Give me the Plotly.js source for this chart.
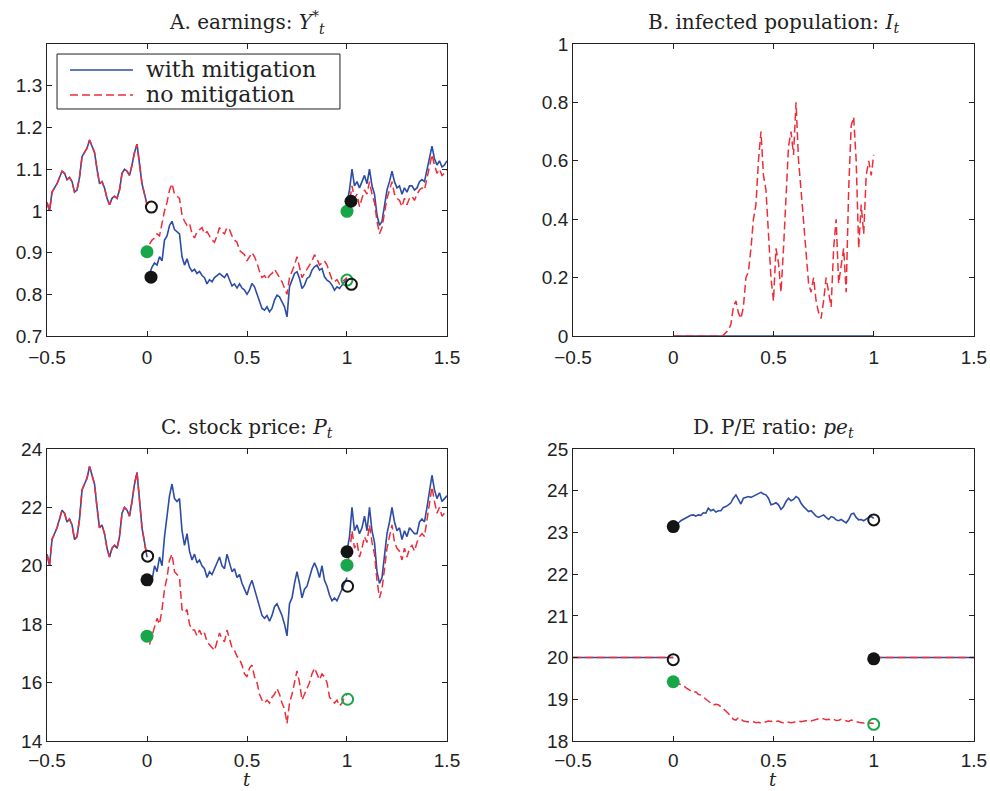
<!DOCTYPE html>
<html>
<head>
<meta charset="utf-8">
<script src="https://cdn.plot.ly/plotly-3.0.1.min.js"></script>
<style>html,body{margin:0;padding:0;background:#fff;}#chart{width:990px;height:791px;}</style>
</head>
<body>
<div id="chart"></div>
<script>
// ---------- time grids ----------
const tPre = [-0.5,-0.4875,-0.475,-0.4625,-0.45,-0.4375,-0.425,-0.4125,-0.4,-0.3875,-0.375,-0.3625,-0.35,-0.3375,-0.325,-0.3125,-0.3,-0.2875,-0.275,-0.2625,-0.25,-0.2375,-0.225,-0.2125,-0.2,-0.1875,-0.175,-0.1625,-0.15,-0.1375,-0.125,-0.1125,-0.1,-0.0875,-0.075,-0.0625,-0.05,-0.0375,-0.025,-0.0125,0];
const tMid = [0.0125,0.025,0.0375,0.05,0.0625,0.075,0.0875,0.1,0.1125,0.125,0.1375,0.15,0.1625,0.175,0.1875,0.2,0.2125,0.225,0.2375,0.25,0.2625,0.275,0.2875,0.3,0.3125,0.325,0.3375,0.35,0.3625,0.375,0.3875,0.4,0.4125,0.425,0.4375,0.45,0.4625,0.475,0.4875,0.5,0.5125,0.525,0.5375,0.55,0.5625,0.575,0.5875,0.6,0.6125,0.625,0.6375,0.65,0.6625,0.675,0.6875,0.7,0.7125,0.725,0.7375,0.75,0.7625,0.775,0.7875,0.8,0.8125,0.825,0.8375,0.85,0.8625,0.875,0.8875,0.9,0.9125,0.925,0.9375,0.95,0.9625,0.975,0.9875,1];
const tPost = [1,1.0125,1.025,1.0375,1.05,1.0625,1.075,1.0875,1.1,1.1125,1.125,1.1375,1.15,1.1625,1.175,1.1875,1.2,1.2125,1.225,1.2375,1.25,1.2625,1.275,1.2875,1.3,1.3125,1.325,1.3375,1.35,1.3625,1.375,1.3875,1.4,1.4125,1.425,1.4375,1.45,1.4625,1.475,1.4875,1.5];
const tStart = [0];

// ---------- series names ----------
const seriesNames = ['with mitigation', 'no mitigation'];

// ---------- A. earnings ----------
const earnPre = [1.02,1.0,1.045,1.055,1.065,1.08,1.095,1.09,1.075,1.08,1.07,1.045,1.05,1.08,1.13,1.14,1.15,1.17,1.155,1.14,1.10,1.065,1.07,1.055,1.03,1.015,1.03,1.035,1.03,1.05,1.09,1.10,1.095,1.085,1.11,1.14,1.16,1.11,1.065,1.04,1.015];
const earnMitMid = [0.85,0.865,0.875,0.87,0.89,0.88,0.93,0.94,0.965,0.975,
 0.955,0.95,0.945,0.89,0.87,0.885,0.865,0.855,0.86,0.85,
 0.855,0.845,0.84,0.825,0.835,0.83,0.84,0.845,0.85,0.845,
 0.84,0.85,0.835,0.82,0.825,0.815,0.825,0.815,0.81,0.8,
 0.81,0.826,0.818,0.802,0.782,0.766,0.762,0.77,0.758,0.766,
 0.786,0.798,0.794,0.782,0.77,0.746,0.818,0.834,0.85,0.854,
 0.838,0.814,0.822,0.838,0.842,0.858,0.866,0.87,0.858,0.862,
 0.842,0.834,0.83,0.822,0.81,0.818,0.814,0.822,0.83,0.838];
const earnNoMid = [0.92,0.93,0.935,0.945,0.94,0.975,1.0,1.02,1.05,1.065,
 1.04,1.035,1.03,0.99,0.975,0.965,0.97,0.945,0.935,0.95,
 0.955,0.96,0.945,0.95,0.94,0.93,0.925,0.94,0.96,0.95,
 0.945,0.96,0.955,0.94,0.93,0.925,0.905,0.9,0.895,0.88,
 0.89,0.9,0.89,0.875,0.855,0.84,0.845,0.835,0.845,0.85,
 0.86,0.85,0.84,0.83,0.815,0.8,0.84,0.855,0.87,0.89,
 0.865,0.84,0.85,0.86,0.87,0.88,0.895,0.885,0.87,0.875,
 0.88,0.87,0.85,0.835,0.83,0.835,0.825,0.83,0.835,0.84];
const earnMitPost = [1.02,1.05,1.1,1.06,1.07,1.055,1.07,1.085,1.065,1.1,1.06,1.04,0.99,0.965,0.975,1.01,1.05,1.07,1.095,1.07,1.055,1.06,1.04,1.055,1.045,1.06,1.06,1.05,1.055,1.07,1.075,1.07,1.1,1.125,1.155,1.125,1.11,1.12,1.105,1.11,1.12];
const earnNoPost = [1.0,1.02,1.06,1.03,1.04,1.01,1.03,1.05,1.04,1.07,1.04,1.02,0.975,0.945,0.96,0.995,1.03,1.05,1.07,1.04,1.03,1.025,1.01,1.03,1.015,1.03,1.035,1.025,1.04,1.05,1.055,1.05,1.08,1.105,1.135,1.11,1.09,1.1,1.085,1.09,1.1];

// ---------- B. infected population ----------
const infMitT = [0, 1];
const infMit = [0, 0];
const infNo = [0,0,0,0,0,0,0,0,0,0,
 0,0,0,0,0,0,0,0,0,0,
 0.003,0.01,0.02,0.04,0.1,0.12,0.08,0.06,0.1,0.2,
 0.22,0.3,0.4,0.45,0.6,0.7,0.55,0.5,0.35,0.2,
 0.12,0.3,0.25,0.15,0.3,0.5,0.65,0.7,0.62,0.8,
 0.6,0.5,0.4,0.3,0.18,0.15,0.2,0.12,0.08,0.06,
 0.12,0.2,0.15,0.1,0.3,0.4,0.18,0.25,0.3,0.15,
 0.5,0.72,0.75,0.6,0.3,0.45,0.35,0.55,0.6,0.55,
 0.62];

// ---------- C. stock price ----------
const pricePre = [20.4,20.0,20.9,21.1,21.3,21.6,21.9,21.8,21.5,21.6,21.4,20.9,21.0,21.6,22.6,22.8,23.0,23.4,23.1,22.8,22.0,21.3,21.4,21.1,20.6,20.3,20.6,20.7,20.6,21.0,21.8,22.0,21.9,21.7,22.2,22.8,23.2,22.2,21.3,20.8,20.3];
const priceMitMid = [19.3,19.5,20.0,19.8,20.3,20.0,21.0,21.7,22.4,22.8,
 22.3,22.2,22.3,21.2,20.7,21.1,20.5,20.2,20.4,20.1,
 20.2,20.0,19.9,19.6,19.8,19.7,19.9,20.1,20.3,20.0,
 19.9,20.4,20.1,19.8,19.9,19.6,19.7,19.4,19.2,19.0,
 19.3,19.5,19.2,18.9,18.6,18.3,18.2,18.3,18.1,18.3,
 18.6,18.7,18.5,18.3,18.0,17.6,18.7,18.9,19.4,19.8,
 19.4,18.9,19.2,19.3,19.6,19.9,20.1,19.9,19.6,20.0,
 19.5,19.3,19.0,18.8,18.9,18.8,19.0,19.2,19.4,19.6];
const priceNoMid = [17.3,17.6,17.9,18.2,18.0,18.5,19.2,19.6,20.2,20.4,
 19.8,19.7,19.6,18.5,18.4,18.5,18.0,17.8,17.8,17.6,
 17.8,17.6,17.7,17.4,17.3,17.2,17.1,17.4,17.7,17.5,
 17.4,17.8,17.5,17.2,17.1,16.9,16.8,16.6,16.3,16.2,
 16.5,16.6,16.2,16.0,15.6,15.4,15.3,15.4,15.3,15.5,
 15.6,15.8,15.6,15.3,15.1,14.6,15.3,15.6,16.0,16.4,
 16.0,15.4,15.6,15.8,16.0,16.3,16.5,16.3,16.1,16.3,
 16.2,16.0,15.5,15.4,15.3,15.4,15.2,15.3,15.5,15.6];
const priceMitPost = [20.5,21.0,22.0,21.2,21.4,21.1,21.3,21.7,21.2,22.0,21.2,20.8,19.8,19.4,19.6,20.3,21.1,21.5,22.0,21.5,21.2,21.3,20.9,21.2,21.0,21.3,21.2,21.1,21.1,21.5,21.6,21.5,22.0,22.6,23.1,22.6,22.3,22.5,22.2,22.3,22.4];
const priceNoPost = [20.0,20.4,21.2,20.6,20.8,20.3,20.6,21.0,20.8,21.4,20.8,20.4,19.5,18.9,19.2,19.9,20.6,21.0,21.4,20.8,20.6,20.5,20.2,20.6,20.3,20.6,20.7,20.5,20.8,21.0,21.1,21.0,21.6,22.1,22.7,22.2,21.8,22.0,21.7,21.8,21.9];

// ---------- D. P/E ratio ----------
const peFlatPreT = [-0.5, 0];
const peFlatPostT = [1, 1.5];
const peFlat = [20, 20];
const peMit = [23.15,23.18,23.22,23.28,23.31,23.36,23.38,23.41,23.42,23.39,
 23.42,23.41,23.47,23.46,23.58,23.52,23.55,23.49,23.52,23.52,
 23.6,23.62,23.66,23.71,23.82,23.9,23.79,23.68,23.82,23.84,
 23.86,23.84,23.87,23.9,23.92,23.96,23.92,23.9,23.82,23.66,
 23.68,23.71,23.66,23.55,23.62,23.74,23.82,23.76,23.79,23.86,
 23.82,23.7,23.62,23.55,23.5,23.52,23.44,23.39,23.36,23.39,
 23.42,23.36,23.31,23.38,23.36,23.3,23.28,23.31,23.26,23.23,
 23.31,23.44,23.46,23.36,23.3,23.31,23.28,23.33,23.36,23.38,
 23.34];
const peNo = [19.42,19.4,19.38,19.36,19.33,19.28,19.24,19.22,19.16,19.18,
 19.12,19.1,19.05,19.02,18.95,18.9,18.86,18.88,18.87,18.82,
 18.78,18.72,18.66,18.58,18.52,18.5,18.56,18.52,18.48,18.47,
 18.46,18.45,18.46,18.44,18.45,18.43,18.44,18.46,18.48,18.47,
 18.49,18.47,18.48,18.45,18.44,18.46,18.45,18.44,18.45,18.47,
 18.48,18.46,18.47,18.49,18.5,18.48,18.5,18.52,18.53,18.55,
 18.53,18.51,18.52,18.5,18.52,18.49,18.5,18.52,18.5,18.48,
 18.47,18.5,18.48,18.46,18.45,18.44,18.43,18.44,18.42,18.43,
 18.42];

// ---------- markers (jump points) ----------
const aBlackDotT = [0.02, 1.02], aBlackDotY = [0.841, 1.023];
const aBlackRingT = [0.022, 1.022], aBlackRingY = [1.009, 0.824];
const aGreenDotT = [0, 1.0], aGreenDotY = [0.902, 0.999];
const aGreenRingT = [1.0], aGreenRingY = [0.834];
const cBlackDotT = [0, 1.0], cBlackDotY = [19.52, 20.48];
const cBlackRingT = [0.003, 1.003], cBlackRingY = [20.33, 19.3];
const cGreenDotT = [0, 1.0], cGreenDotY = [17.59, 20.02];
const cGreenRingT = [1.003], cGreenRingY = [15.43];
const dBlackDotT = [0, 1.0], dBlackDotY = [23.14, 19.97];
const dBlackRingT = [0, 1.0], dBlackRingY = [19.95, 23.3];
const dGreenDotT = [0], dGreenDotY = [19.42];
const dGreenRingT = [1.0], dGreenRingY = [18.4];

const xTicks = [-0.5, 0, 0.5, 1, 1.5];
const xTickText = ['\u22120.5', '0', '0.5', '1', '1.5'];
const aTicks = [0.7, 0.8, 0.9, 1.0, 1.1, 1.2, 1.3];
const aTickText = ['0.7', '0.8', '0.9', '1', '1.1', '1.2', '1.3'];
const bTicks = [0, 0.2, 0.4, 0.6, 0.8, 1];
const cTicks = [14, 16, 18, 20, 22, 24];
const dTicks = [18, 19, 20, 21, 22, 23, 24, 25];

// ---------- styling ----------
const BLUE = '#2d4ca4', RED = '#ee2d3a', GREEN = '#17a64a', BLACK = '#141414';
const DASH = '8px,4px';

function join(parts) { // concatenate segments with gaps
  let out = [];
  parts.forEach((p, i) => { if (i) out.push(null); out = out.concat(p); });
  return out;
}
function line(x, y, color, dash, xa, ya, name) {
  return {x, y, type: 'scatter', mode: 'lines', xaxis: xa, yaxis: ya, name: name,
    showlegend: false, connectgaps: false, hoverinfo: 'skip',
    line: {color: color, width: dash === 'solid' ? 1.6 : 1.5, dash: dash}};
}
function dots(x, y, color, open, xa, ya) {
  return {x, y, type: 'scatter', mode: 'markers', xaxis: xa, yaxis: ya, showlegend: false, hoverinfo: 'skip',
    marker: open ? {symbol: 'circle-open', size: 11, color: color, line: {width: 2, color: color}}
                 : {symbol: 'circle', size: 13, color: color, line: {width: 0}}};
}

const traces = [
  // A
  line(join([tPre, tMid, tPost]), join([earnPre, earnMitMid, earnMitPost]), BLUE, 'solid', 'x', 'y', seriesNames[0]),
  line(join([tPre, tMid, tPost]), join([earnPre, earnNoMid, earnNoPost]), RED, DASH, 'x', 'y', seriesNames[1]),
  dots(aGreenDotT, aGreenDotY, GREEN, false, 'x', 'y'),
  dots(aGreenRingT, aGreenRingY, GREEN, true, 'x', 'y'),
  dots(aBlackDotT, aBlackDotY, BLACK, false, 'x', 'y'),
  dots(aBlackRingT, aBlackRingY, BLACK, true, 'x', 'y'),
  // B
  line(infMitT, infMit, BLUE, 'solid', 'x2', 'y2', seriesNames[0]),
  line(tStart.concat(tMid), infNo, RED, DASH, 'x2', 'y2', seriesNames[1]),
  // C
  line(join([tPre, tMid, tPost]), join([pricePre, priceMitMid, priceMitPost]), BLUE, 'solid', 'x3', 'y3', seriesNames[0]),
  line(join([tPre, tMid, tPost]), join([pricePre, priceNoMid, priceNoPost]), RED, DASH, 'x3', 'y3', seriesNames[1]),
  dots(cGreenDotT, cGreenDotY, GREEN, false, 'x3', 'y3'),
  dots(cGreenRingT, cGreenRingY, GREEN, true, 'x3', 'y3'),
  dots(cBlackDotT, cBlackDotY, BLACK, false, 'x3', 'y3'),
  dots(cBlackRingT, cBlackRingY, BLACK, true, 'x3', 'y3'),
  // D
  line(join([peFlatPreT, tStart.concat(tMid), peFlatPostT]), join([peFlat, peMit, peFlat]), BLUE, 'solid', 'x4', 'y4', seriesNames[0]),
  line(join([peFlatPreT, tStart.concat(tMid), peFlatPostT]), join([peFlat, peNo, peFlat]), RED, DASH, 'x4', 'y4', seriesNames[1]),
  dots(dGreenDotT, dGreenDotY, GREEN, false, 'x4', 'y4'),
  dots(dGreenRingT, dGreenRingY, GREEN, true, 'x4', 'y4'),
  dots(dBlackDotT, dBlackDotY, BLACK, false, 'x4', 'y4'),
  dots(dBlackRingT, dBlackRingY, BLACK, true, 'x4', 'y4')
];

const TICKFONT = {family: 'Liberation Sans, Arial, sans-serif', size: 19, color: '#222'};
const SERIF = {family: 'DejaVu Serif, serif', size: 20, color: '#222'};
const LEGFONT = {family: 'DejaVu Serif, serif', size: 22, color: '#222'};
function axis(extra) {
  return Object.assign({
    showgrid: false, zeroline: false, showline: true, linecolor: '#222', linewidth: 1,
    mirror: 'allticks', ticks: 'inside', ticklen: 5, tickwidth: 1, tickcolor: '#222',
    tickfont: TICKFONT, fixedrange: true
  }, extra);
}
function xaxis(extra) {
  return axis(Object.assign({range: [-0.5, 1.5], tickvals: xTicks, ticktext: xTickText, ticklabelstandoff: 4}, extra));
}
const xDomL = [0.0475, 0.4515], xDomR = [0.5788, 0.9838];
const yDomT = [0.5752, 0.9444], yDomB = [0.0632, 0.4324];

// legend box (drawn by hand to match the long line samples)
const legShapes = [
  {type: 'rect', xref: 'paper', yref: 'paper', x0: 0.0576, x1: 0.3434, y0: 0.8622, y1: 0.9317,
   fillcolor: '#fff', line: {color: '#222', width: 1}, layer: 'above'},
  {type: 'line', xref: 'paper', yref: 'paper', x0: 0.0707, x1: 0.1343, y0: 0.9115, y1: 0.9115,
   line: {color: BLUE, width: 1.3}, layer: 'above'},
  {type: 'line', xref: 'paper', yref: 'paper', x0: 0.0707, x1: 0.1343, y0: 0.8799, y1: 0.8799,
   line: {color: RED, width: 1.3, dash: DASH}, layer: 'above'}
];
const legTexts = [
  {text: seriesNames[0], x: 0.1455, y: 0.9125},
  {text: seriesNames[1], x: 0.1455, y: 0.8809}
].map(a => Object.assign({xref: 'paper', yref: 'paper', xanchor: 'left', yanchor: 'middle',
  showarrow: false, font: LEGFONT}, a));

// x-axis titles ("t") under the two bottom panels
const xTitles = [
  {text: '<i>t</i>', x: 0.2495, y: 0},
  {text: '<i>t</i>', x: 0.7813, y: 0}
].map(a => Object.assign({xref: 'paper', yref: 'paper', xanchor: 'center', yanchor: 'bottom',
  borderpad: 0, showarrow: false, font: {family: 'DejaVu Serif, serif', size: 18, color: '#222'}}, a));

const layout = {
  width: 990, height: 791,
  margin: {l: 0, r: 0, t: 0, b: 0},
  paper_bgcolor: '#fff', plot_bgcolor: '#fff',
  showlegend: false,
  xaxis:  xaxis({domain: xDomL, anchor: 'y'}),
  yaxis:  axis({domain: yDomT, anchor: 'x',  range: [0.7, 1.4], tickvals: aTicks, ticktext: aTickText}),
  xaxis2: xaxis({domain: xDomR, anchor: 'y2'}),
  yaxis2: axis({domain: yDomT, anchor: 'x2', range: [0, 1], tickvals: bTicks}),
  xaxis3: xaxis({domain: xDomL, anchor: 'y3', ticklabelstandoff: 2}),
  yaxis3: axis({domain: yDomB, anchor: 'x3', range: [14, 24], tickvals: cTicks}),
  xaxis4: xaxis({domain: xDomR, anchor: 'y4', ticklabelstandoff: 2}),
  yaxis4: axis({domain: yDomB, anchor: 'x4', range: [18, 25], tickvals: dTicks}),
  shapes: legShapes,
  annotations: [
    {text: 'A. earnings: <i>Y</i><sup>*</sup><sub><i>t</i></sub>', x: 0.2495, y: 0.971},
    {text: 'B. infected population: <i>I</i><sub><i>t</i></sub>', x: 0.7813, y: 0.971},
    {text: 'C. stock price: <i>P</i><sub><i>t</i></sub>', x: 0.2495, y: 0.4589},
    {text: 'D. P/E ratio: <i>pe</i><sub><i>t</i></sub>', x: 0.7813, y: 0.4589}
  ].map(a => Object.assign({xref: 'paper', yref: 'paper', xanchor: 'center', yanchor: 'middle',
    showarrow: false, font: SERIF}, a)).concat(legTexts, xTitles)
};

Plotly.newPlot('chart', traces, layout, {displayModeBar: false, staticPlot: true});
</script>
</body>
</html>
